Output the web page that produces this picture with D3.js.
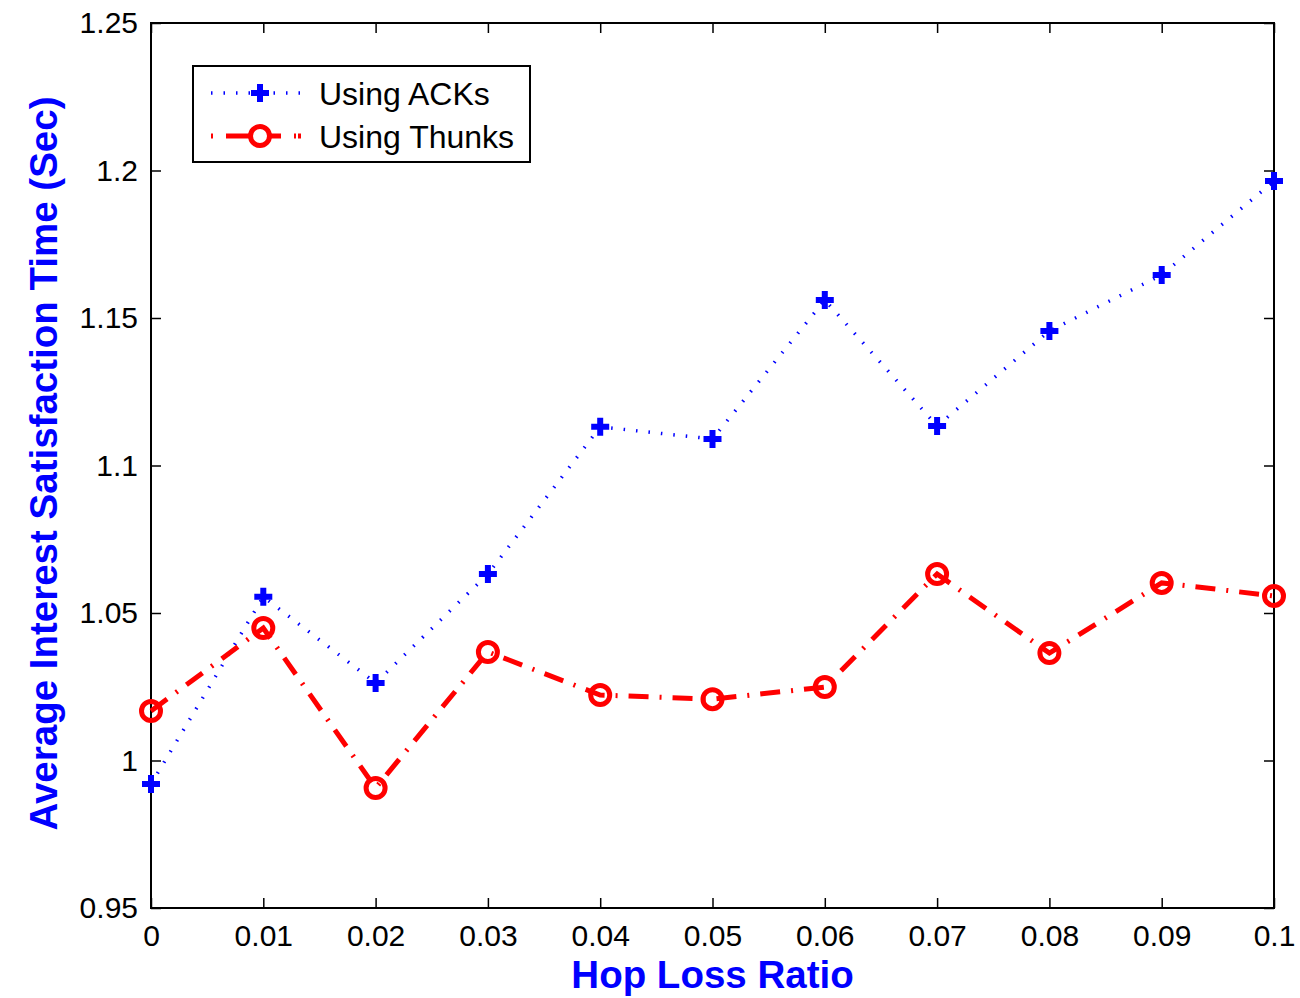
<!DOCTYPE html>
<html lang="en">
<head>
<meta charset="utf-8">
<title>Average Interest Satisfaction Time</title>
<script src="https://cdn.jsdelivr.net/npm/d3@7"></script>
<style>
  body { margin: 0; background: #fff; }
  svg text { font-family: "Liberation Sans", Arial, Helvetica, sans-serif; }
</style>
</head>
<body>
<div id="chart"></div>
<script>
// data
var hopLoss = [0, 0.01, 0.02, 0.03, 0.04, 0.05, 0.06, 0.07, 0.08, 0.09, 0.1];
var acks    = [0.992, 1.0555, 1.0263, 1.0632, 1.1131, 1.109, 1.1561, 1.1134, 1.1456, 1.1646, 1.1964];
var thunks  = [1.0168, 1.0449, 0.9907, 1.0368, 1.0222, 1.0208, 1.0249, 1.0632, 1.0364, 1.0602, 1.0558];
var xTicks = [0, 0.01, 0.02, 0.03, 0.04, 0.05, 0.06, 0.07, 0.08, 0.09, 0.1];
var yTicks = [0.95, 1, 1.05, 1.1, 1.15, 1.2, 1.25];
var seriesNames = ["Using ACKs", "Using Thunks"];

var width = 1300, height = 998;
var margin = {top: 23, right: 26, bottom: 90, left: 151};
var w = width - margin.left - margin.right;
var h = height - margin.top - margin.bottom;

var svg = d3.select("#chart")
  .append("svg")
  .attr("width", width)
  .attr("height", height);

var g = svg.append("g")
  .attr("transform", "translate(" + margin.left + "," + margin.top + ")");

var x = d3.scaleLinear().domain([0, 0.1]).range([0, w]);
var y = d3.scaleLinear().domain([0.95, 1.25]).range([h, 0]);

// frame
g.append("rect")
  .attr("width", w).attr("height", h)
  .attr("fill", "none").attr("stroke", "#000").attr("stroke-width", 2);

// axes with inward ticks (matlab style)
var fmt = function(d) { return String(+d.toFixed(2)); };
var xAxis = g.append("g")
  .attr("transform", "translate(0," + h + ")")
  .call(d3.axisBottom(x).tickValues(xTicks).tickSize(-10).tickPadding(17).tickFormat(fmt));
var yAxis = g.append("g")
  .call(d3.axisLeft(y).tickValues(yTicks).tickSize(-10).tickPadding(13).tickFormat(fmt));
g.append("g")
  .call(d3.axisTop(x).tickValues(xTicks).tickSize(-10).tickFormat(""));
g.append("g")
  .attr("transform", "translate(" + w + ",0)")
  .call(d3.axisRight(y).tickValues(yTicks).tickSize(-10).tickFormat(""));

g.selectAll(".domain").remove();
g.selectAll(".tick line").attr("stroke", "#000").attr("stroke-width", 1.5);
g.selectAll(".tick text").attr("fill", "#000").style("font-size", "30px");
xAxis.selectAll(".tick text").attr("dy", "0.71em");

// lines
var line = function(vals) {
  return d3.line()
    .x(function(d, i) { return x(hopLoss[i]); })
    .y(function(d) { return y(d); })(vals);
};

g.append("path")
  .attr("d", line(acks))
  .attr("fill", "none")
  .attr("stroke", "#0000ff")
  .attr("stroke-width", 3.5)
  .attr("stroke-dasharray", "1.5,11");

g.append("path")
  .attr("d", line(thunks))
  .attr("fill", "none")
  .attr("stroke", "#ff0000")
  .attr("stroke-width", 5)
  .attr("stroke-dasharray", "20,11,2,11");

// markers
function plus(sel, cx, cy) {
  sel.append("path")
    .attr("d", "M" + (cx - 9) + "," + cy + "H" + (cx + 9) + "M" + cx + "," + (cy - 9) + "V" + (cy + 9))
    .attr("stroke", "#0000ff").attr("stroke-width", 6).attr("fill", "none");
}
acks.forEach(function(d, i) { plus(g, x(hopLoss[i]), y(d)); });

g.selectAll("circle.thunk")
  .data(thunks)
  .enter()
  .append("circle")
  .attr("class", "thunk")
  .attr("cx", function(d, i) { return x(hopLoss[i]); })
  .attr("cy", function(d) { return y(d); })
  .attr("r", 9.5)
  .attr("fill", "none")
  .attr("stroke", "#ff0000")
  .attr("stroke-width", 5);

// axis titles
svg.append("text")
  .attr("x", margin.left + w / 2)
  .attr("y", 988)
  .attr("text-anchor", "middle")
  .attr("fill", "#0000ff")
  .style("font-size", "38.5px")
  .style("font-weight", "bold")
  .text("Hop Loss Ratio");

svg.append("text")
  .attr("transform", "translate(57," + (margin.top + h / 2 - 2) + ") rotate(-90)")
  .attr("text-anchor", "middle")
  .attr("fill", "#0000ff")
  .style("font-size", "38.5px")
  .style("font-weight", "bold")
  .text("Average Interest Satisfaction Time (Sec)");

// legend
var leg = svg.append("g").attr("transform", "translate(193,66)");
leg.append("rect")
  .attr("width", 337).attr("height", 96)
  .attr("fill", "#fff").attr("stroke", "#000").attr("stroke-width", 2);

var legY = [27, 70];
leg.append("line")
  .attr("x1", 18).attr("x2", 108).attr("y1", legY[0]).attr("y2", legY[0])
  .attr("stroke", "#0000ff").attr("stroke-width", 3.5).attr("stroke-dasharray", "1.5,11");
plus(leg, 67, legY[0]);
leg.append("line")
  .attr("x1", 18).attr("x2", 108).attr("y1", legY[1]).attr("y2", legY[1])
  .attr("stroke", "#ff0000").attr("stroke-width", 5).attr("stroke-dasharray", "2,13,24,7,24,13,2");
leg.append("circle")
  .attr("cx", 67).attr("cy", legY[1]).attr("r", 9.5)
  .attr("fill", "#fff").attr("stroke", "#ff0000").attr("stroke-width", 5);

leg.selectAll("text.lab")
  .data(seriesNames)
  .enter()
  .append("text")
  .attr("class", "lab")
  .attr("x", 126)
  .attr("y", function(d, i) { return legY[i]; })
  .attr("dy", "0.36em")
  .style("font-size", "32px")
  .text(function(d) { return d; });
</script>
</body>
</html>
